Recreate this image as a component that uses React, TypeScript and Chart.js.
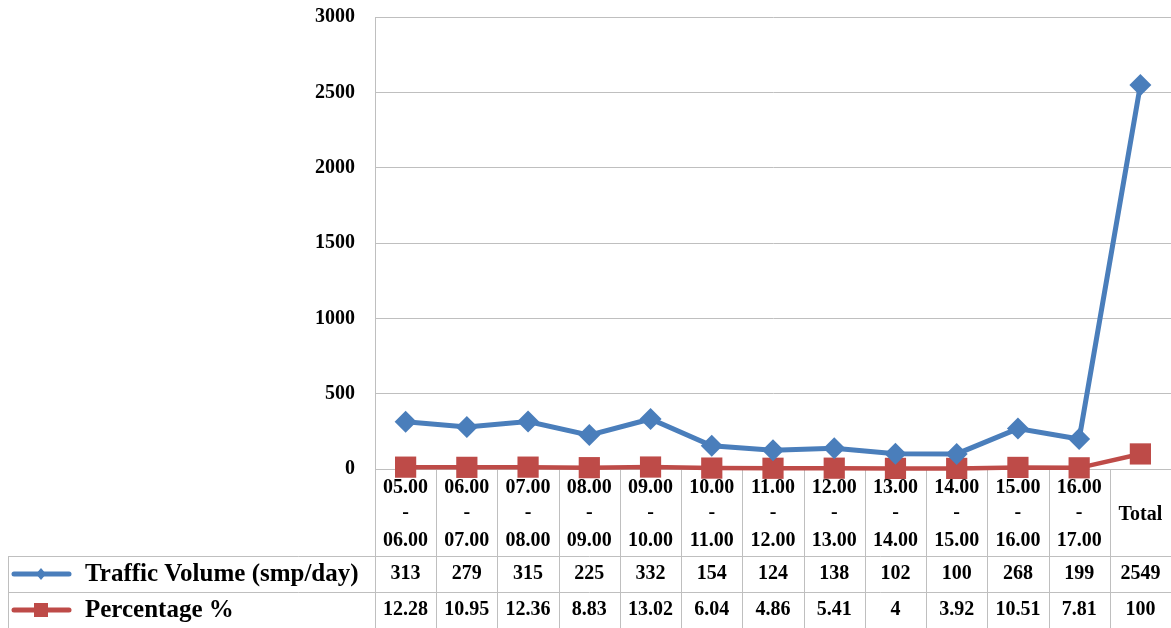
import React, { useEffect, useRef } from "react";
import { Chart, registerables } from "chart.js";

Chart.register(...registerables);

const startTimes = ["05.00", "06.00", "07.00", "08.00", "09.00", "10.00", "11.00", "12.00", "13.00", "14.00", "15.00", "16.00"];
const endTimes = ["06.00", "07.00", "08.00", "09.00", "10.00", "11.00", "12.00", "13.00", "14.00", "15.00", "16.00", "17.00"];
const totalLabel = "Total";
const categories = [...startTimes.map((s, i) => `${s} - ${endTimes[i]}`), totalLabel];

const trafficVolume = [313, 279, 315, 225, 332, 154, 124, 138, 102, 100, 268, 199, 2549];
const trafficText = ["313", "279", "315", "225", "332", "154", "124", "138", "102", "100", "268", "199", "2549"];
const percentage = [12.28, 10.95, 12.36, 8.83, 13.02, 6.04, 4.86, 5.41, 4, 3.92, 10.51, 7.81, 100];
const percentageText = ["12.28", "10.95", "12.36", "8.83", "13.02", "6.04", "4.86", "5.41", "4", "3.92", "10.51", "7.81", "100"];

const seriesNames = ["Traffic Volume (smp/day)", "Percentage %"];
const BLUE = "#4a7ebb";
const RED = "#be4b48";
const GRID = "#bfbfbf";
const FONT = "Liberation Serif";

const tablePlugin = {
  id: "dataTable",
  beforeDatasetsDraw(chart: any) {
    const { ctx, chartArea } = chart;
    const xs = chart.scales.x;
    const n = categories.length;
    const w = (chartArea.right - chartArea.left) / n;
    const top = chartArea.bottom;
    const hdrBottom = top + 87;
    const row1Bottom = hdrBottom + 36;
    const bottom = chart.height;
    const legendLeft = 8;
    ctx.save();
    ctx.strokeStyle = GRID;
    ctx.lineWidth = 1;
    for (let i = 0; i <= n; i++) {
      const x = Math.round(chartArea.left + i * w) + 0.5;
      ctx.beginPath();
      ctx.moveTo(x, top);
      ctx.lineTo(x, bottom);
      ctx.stroke();
    }
    [hdrBottom, row1Bottom].forEach((y) => {
      ctx.beginPath();
      ctx.moveTo(legendLeft, Math.round(y) + 0.5);
      ctx.lineTo(chartArea.right, Math.round(y) + 0.5);
      ctx.stroke();
    });
    ctx.beginPath();
    ctx.moveTo(legendLeft + 0.5, hdrBottom);
    ctx.lineTo(legendLeft + 0.5, bottom);
    ctx.stroke();

    ctx.fillStyle = "#000";
    ctx.textAlign = "center";
    ctx.textBaseline = "middle";
    ctx.font = `bold 20px "${FONT}"`;
    for (let i = 0; i < n; i++) {
      const cx = xs.getPixelForValue(i);
      if (i < startTimes.length) {
        ctx.fillText(startTimes[i], cx, top + 19);
        ctx.fillText("-", cx, top + 44);
        ctx.fillText(endTimes[i], cx, top + 72);
      } else {
        ctx.fillText(totalLabel, cx, top + 46);
      }
      ctx.fillText(trafficText[i], cx, hdrBottom + 18);
      ctx.fillText(percentageText[i], cx, row1Bottom + 18);
    }

    const rows = [
      { y: hdrBottom + 18, color: BLUE, style: "diamond", name: seriesNames[0] },
      { y: row1Bottom + 18, color: RED, style: "square", name: seriesNames[1] },
    ];
    rows.forEach((r) => {
      ctx.strokeStyle = r.color;
      ctx.fillStyle = r.color;
      ctx.lineWidth = 5;
      ctx.lineCap = "round";
      ctx.beginPath();
      ctx.moveTo(14, r.y);
      ctx.lineTo(69, r.y);
      ctx.stroke();
      ctx.beginPath();
      if (r.style === "diamond") {
        ctx.moveTo(41, r.y - 6);
        ctx.lineTo(46, r.y);
        ctx.lineTo(41, r.y + 6);
        ctx.lineTo(36, r.y);
        ctx.closePath();
        ctx.fill();
      } else {
        ctx.fillRect(34, r.y - 7, 14, 14);
      }
      ctx.fillStyle = "#000";
      ctx.textAlign = "left";
      ctx.font = `bold 25px "${FONT}"`;
      ctx.fillText(r.name, 85, r.y + 1);
    });
    ctx.restore();
  },
};

export default function App() {
  const ref = useRef<HTMLCanvasElement>(null);
  useEffect(() => {
    document.body.style.margin = "0";
    const chart = new Chart(ref.current as HTMLCanvasElement, {
      type: "line",
      data: {
        labels: categories,
        datasets: [
          {
            label: seriesNames[0],
            data: trafficVolume,
            borderColor: BLUE,
            backgroundColor: BLUE,
            borderWidth: 5,
            pointStyle: "rectRot",
            pointRadius: 11,
            pointBorderWidth: 0,
            clip: false,
          } as any,
          {
            label: seriesNames[1],
            data: percentage,
            borderColor: RED,
            backgroundColor: RED,
            borderWidth: 4.5,
            pointStyle: "rect",
            pointRadius: 15,
            pointBorderWidth: 0,
            clip: false,
          } as any,
        ],
      },
      options: {
        responsive: false,
        animation: false,
        layout: { autoPadding: false, padding: { top: 17, bottom: 159, right: 0, left: 0 } },
        plugins: { legend: { display: false }, tooltip: { enabled: false } },
        scales: {
          x: { display: false, offset: true },
          y: {
            min: 0,
            max: 3000,
            ticks: {
              stepSize: 500,
              color: "#000",
              padding: 20,
              font: { family: FONT, size: 20, weight: "bold" },
              callback: (v: any) => String(v),
            },
            grid: { color: GRID, drawTicks: false },
            border: { color: GRID },
            afterFit: (s: any) => {
              s.width = 375;
              s.paddingTop = 0;
              s.paddingBottom = 0;
            },
          } as any,
        },
      } as any,
      plugins: [tablePlugin],
    });
    return () => chart.destroy();
  }, []);
  return (
    <div style={{ width: 1171, height: 628 }}>
      <canvas ref={ref} width={1171} height={628} style={{ display: "block" }} />
    </div>
  );
}
